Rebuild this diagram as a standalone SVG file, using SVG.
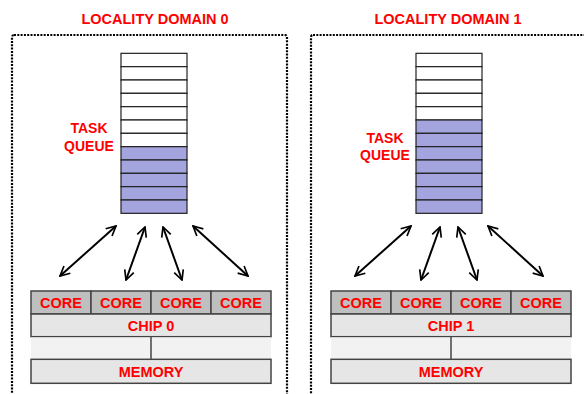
<svg xmlns="http://www.w3.org/2000/svg" width="584" height="394" viewBox="0 0 584 394">
<defs>
<style>
.t{font-family:"Liberation Sans",Arial,sans-serif;font-weight:bold;fill:#ff0000;text-anchor:middle;font-size:14.5px}
.tq{font-size:14px}
.dom{fill:none;stroke:#000;stroke-width:2.2;stroke-dasharray:2 1.3}
.w{fill:#fff;stroke:#222;stroke-width:1.2}
.p{fill:#a4a4de;stroke:#222;stroke-width:1.2}
.core{fill:#bfbfbf;stroke:#444;stroke-width:1.5}
.chip{fill:#e6e6e6;stroke:#444;stroke-width:1.5}
.gap{fill:#f2f2f2}
.vl{stroke:#444;stroke-width:1.5}
.ar{fill:none;stroke:#000;stroke-width:2;marker-start:url(#ah);marker-end:url(#ah)}
</style>
<marker id="ah" viewBox="0 0 10 10" refX="9" refY="5" markerWidth="6" markerHeight="6" orient="auto-start-reverse" markerUnits="strokeWidth">
<path d="M1,1 L9,5 L1,9" fill="none" stroke="#000" stroke-width="1.4"/>
</marker>
</defs>

<g id="domain0">
<rect class="dom" x="12" y="35" width="275" height="400" rx="2"/>
<text class="t" x="155" y="24">LOCALITY DOMAIN 0</text>
</g>
<g id="queue0">
<rect class="w" x="121" y="53.33" width="66" height="13.33"/>
<rect class="w" x="121" y="66.67" width="66" height="13.33"/>
<rect class="w" x="121" y="80" width="66" height="13.33"/>
<rect class="w" x="121" y="93.33" width="66" height="13.33"/>
<rect class="w" x="121" y="106.67" width="66" height="13.33"/>
<rect class="w" x="121" y="120" width="66" height="13.33"/>
<rect class="w" x="121" y="133.33" width="66" height="13.33"/>
<rect class="p" x="121" y="146.67" width="66" height="13.33"/>
<rect class="p" x="121" y="160" width="66" height="13.33"/>
<rect class="p" x="121" y="173.33" width="66" height="13.33"/>
<rect class="p" x="121" y="186.67" width="66" height="13.33"/>
<rect class="p" x="121" y="200" width="66" height="13.33"/>
<text class="t tq" x="89" y="133.3">TASK</text>
<text class="t tq" x="89" y="150.7">QUEUE</text>
</g>
<g id="chip0">
<rect class="core" x="31" y="291" width="60" height="23"/>
<rect class="core" x="91" y="291" width="60" height="23"/>
<rect class="core" x="151" y="291" width="60" height="23"/>
<rect class="core" x="211" y="291" width="60" height="23"/>
<text class="t" x="61" y="307.5">CORE</text>
<text class="t" x="121" y="307.5">CORE</text>
<text class="t" x="181" y="307.5">CORE</text>
<text class="t" x="241" y="307.5">CORE</text>
<rect class="chip" x="31" y="314" width="240" height="22.7"/>
<text class="t" x="151" y="330.5">CHIP 0</text>
<rect class="gap" x="31" y="337.4" width="240" height="21.3"/>
<line class="vl" x1="151" y1="336.7" x2="151" y2="359.3"/>
</g>
<g id="memory0">
<rect class="chip" x="31" y="359.3" width="240" height="24"/>
<text class="t" x="151" y="376.5">MEMORY</text>
</g>

<g id="domain1">
<rect class="dom" x="311" y="35" width="300" height="400" rx="2"/>
<text class="t" x="448" y="24">LOCALITY DOMAIN 1</text>
</g>
<g id="queue1">
<rect class="w" x="416" y="53.33" width="66" height="13.33"/>
<rect class="w" x="416" y="66.67" width="66" height="13.33"/>
<rect class="w" x="416" y="80" width="66" height="13.33"/>
<rect class="w" x="416" y="93.33" width="66" height="13.33"/>
<rect class="w" x="416" y="106.67" width="66" height="13.33"/>
<rect class="p" x="416" y="120" width="66" height="13.33"/>
<rect class="p" x="416" y="133.33" width="66" height="13.33"/>
<rect class="p" x="416" y="146.67" width="66" height="13.33"/>
<rect class="p" x="416" y="160" width="66" height="13.33"/>
<rect class="p" x="416" y="173.33" width="66" height="13.33"/>
<rect class="p" x="416" y="186.67" width="66" height="13.33"/>
<rect class="p" x="416" y="200" width="66" height="13.33"/>
<text class="t tq" x="385" y="142.7">TASK</text>
<text class="t tq" x="385" y="160">QUEUE</text>
</g>
<g id="chip1">
<rect class="core" x="331" y="291" width="60" height="23"/>
<rect class="core" x="391" y="291" width="60" height="23"/>
<rect class="core" x="451" y="291" width="60" height="23"/>
<rect class="core" x="511" y="291" width="60" height="23"/>
<text class="t" x="361" y="307.5">CORE</text>
<text class="t" x="421" y="307.5">CORE</text>
<text class="t" x="481" y="307.5">CORE</text>
<text class="t" x="541" y="307.5">CORE</text>
<rect class="chip" x="331" y="314" width="240" height="22.7"/>
<text class="t" x="451" y="330.5">CHIP 1</text>
<rect class="gap" x="331" y="337.4" width="240" height="21.3"/>
<line class="vl" x1="451" y1="336.7" x2="451" y2="359.3"/>
</g>
<g id="memory1">
<rect class="chip" x="331" y="359.3" width="240" height="24"/>
<text class="t" x="451" y="376.5">MEMORY</text>
</g>

<g id="connectors">
<line class="ar" x1="116" y1="226" x2="60" y2="276"/>
<line class="ar" x1="145" y1="227" x2="126" y2="280"/>
<line class="ar" x1="163" y1="227" x2="182" y2="280"/>
<line class="ar" x1="193" y1="226" x2="248" y2="276"/>
<line class="ar" x1="411" y1="226" x2="355" y2="276"/>
<line class="ar" x1="440" y1="227" x2="421" y2="280"/>
<line class="ar" x1="458" y1="227" x2="477" y2="280"/>
<line class="ar" x1="488" y1="226" x2="543" y2="276"/>
</g>
</svg>
